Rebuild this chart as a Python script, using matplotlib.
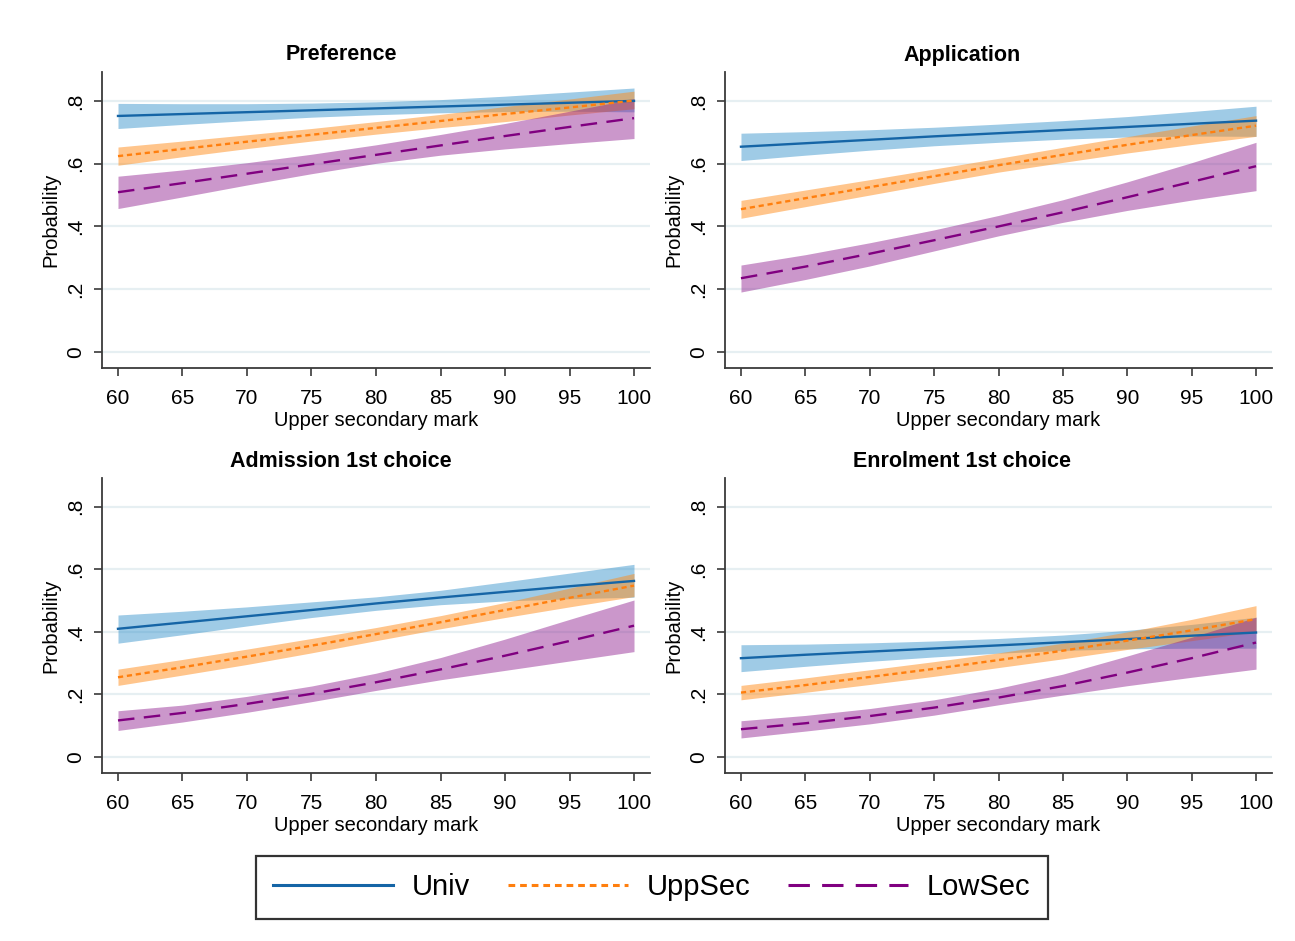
import matplotlib
matplotlib.use("Agg")
import matplotlib.pyplot as plt
from matplotlib.lines import Line2D
import numpy as np

plt.rcParams['font.family'] = ['Liberation Sans', 'DejaVu Sans']

marks = [60, 65, 70, 75, 80, 85, 90, 95, 100]
titles = ["Preference", "Application", "Admission 1st choice", "Enrolment 1st choice"]
series_names = ["Univ", "UppSec", "LowSec"]

# Preference
pref_univ = [0.752, 0.758, 0.764, 0.770, 0.776, 0.782, 0.788, 0.794, 0.800]
pref_univ_hi = [0.792, 0.791, 0.791, 0.793, 0.797, 0.804, 0.815, 0.828, 0.841]
pref_univ_lo = [0.712, 0.725, 0.737, 0.748, 0.756, 0.762, 0.766, 0.767, 0.765]
pref_upp = [0.624, 0.647, 0.670, 0.692, 0.714, 0.736, 0.758, 0.779, 0.801]
pref_upp_hi = [0.653, 0.672, 0.692, 0.712, 0.734, 0.757, 0.782, 0.806, 0.831]
pref_upp_lo = [0.595, 0.622, 0.648, 0.672, 0.694, 0.715, 0.734, 0.755, 0.775]
pref_low = [0.509, 0.538, 0.568, 0.598, 0.628, 0.658, 0.688, 0.717, 0.745]
pref_low_hi = [0.560, 0.580, 0.603, 0.630, 0.660, 0.693, 0.728, 0.767, 0.807]
pref_low_lo = [0.457, 0.494, 0.532, 0.568, 0.601, 0.627, 0.647, 0.664, 0.680]

# Application
app_univ = [0.654, 0.665, 0.676, 0.687, 0.697, 0.707, 0.717, 0.727, 0.737]
app_univ_hi = [0.697, 0.702, 0.708, 0.716, 0.726, 0.737, 0.750, 0.766, 0.783]
app_univ_lo = [0.610, 0.627, 0.643, 0.657, 0.668, 0.678, 0.685, 0.688, 0.687]
app_upp = [0.455, 0.490, 0.525, 0.560, 0.595, 0.628, 0.660, 0.691, 0.721]
app_upp_hi = [0.483, 0.516, 0.549, 0.583, 0.617, 0.652, 0.686, 0.720, 0.753]
app_upp_lo = [0.426, 0.463, 0.500, 0.537, 0.573, 0.604, 0.634, 0.661, 0.687]
app_low = [0.235, 0.272, 0.313, 0.356, 0.400, 0.445, 0.493, 0.542, 0.592]
app_low_hi = [0.277, 0.310, 0.348, 0.389, 0.435, 0.485, 0.542, 0.603, 0.668]
app_low_lo = [0.191, 0.231, 0.274, 0.322, 0.370, 0.413, 0.451, 0.484, 0.514]

# Admission 1st choice
adm_univ = [0.410, 0.430, 0.450, 0.470, 0.491, 0.510, 0.528, 0.546, 0.563]
adm_univ_hi = [0.454, 0.466, 0.480, 0.496, 0.512, 0.533, 0.560, 0.588, 0.616]
adm_univ_lo = [0.364, 0.391, 0.419, 0.446, 0.469, 0.487, 0.499, 0.506, 0.511]
adm_upp = [0.255, 0.287, 0.321, 0.356, 0.393, 0.431, 0.470, 0.509, 0.548]
adm_upp_hi = [0.281, 0.312, 0.345, 0.379, 0.414, 0.452, 0.494, 0.540, 0.587]
adm_upp_lo = [0.229, 0.262, 0.296, 0.333, 0.372, 0.410, 0.446, 0.480, 0.513]
adm_low = [0.117, 0.141, 0.170, 0.202, 0.239, 0.280, 0.324, 0.371, 0.420]
adm_low_hi = [0.148, 0.166, 0.194, 0.227, 0.268, 0.318, 0.377, 0.440, 0.502]
adm_low_lo = [0.085, 0.112, 0.143, 0.177, 0.213, 0.247, 0.277, 0.307, 0.337]

# Enrolment 1st choice
enr_univ = [0.316, 0.327, 0.337, 0.347, 0.357, 0.367, 0.377, 0.388, 0.398]
enr_univ_hi = [0.359, 0.361, 0.365, 0.371, 0.379, 0.390, 0.405, 0.424, 0.447]
enr_univ_lo = [0.273, 0.290, 0.306, 0.320, 0.332, 0.341, 0.346, 0.348, 0.348]
enr_upp = [0.206, 0.230, 0.256, 0.282, 0.310, 0.340, 0.372, 0.405, 0.441]
enr_upp_hi = [0.229, 0.253, 0.279, 0.305, 0.333, 0.364, 0.400, 0.440, 0.484]
enr_upp_lo = [0.183, 0.207, 0.232, 0.258, 0.286, 0.314, 0.344, 0.372, 0.401]
enr_low = [0.089, 0.108, 0.131, 0.158, 0.190, 0.227, 0.270, 0.316, 0.366]
enr_low_hi = [0.116, 0.133, 0.155, 0.183, 0.220, 0.265, 0.323, 0.383, 0.447]
enr_low_lo = [0.061, 0.083, 0.106, 0.134, 0.167, 0.198, 0.228, 0.255, 0.281]

panels = [
    [(pref_univ, pref_univ_lo, pref_univ_hi), (pref_upp, pref_upp_lo, pref_upp_hi), (pref_low, pref_low_lo, pref_low_hi)],
    [(app_univ, app_univ_lo, app_univ_hi), (app_upp, app_upp_lo, app_upp_hi), (app_low, app_low_lo, app_low_hi)],
    [(adm_univ, adm_univ_lo, adm_univ_hi), (adm_upp, adm_upp_lo, adm_upp_hi), (adm_low, adm_low_lo, adm_low_hi)],
    [(enr_univ, enr_univ_lo, enr_univ_hi), (enr_upp, enr_upp_lo, enr_upp_hi), (enr_low, enr_low_lo, enr_low_hi)],
]

line_colors = ["#1565a6", "#ff7f0e", "#800080"]
fill_colors = ["#2a8cc8", "#ff8c1a", "#8c1a8c"]
fill_alpha = [0.45, 0.5, 0.45]
styles = [dict(linestyle="-"), dict(dashes=(2.2, 1.6)), dict(dashes=(7, 4))]

W, H = 1295, 941
fig = plt.figure(figsize=(W / 100, H / 100), dpi=100)

boxes = [(102, 72, 650, 368), (725, 72, 1272, 368), (102, 478, 650, 773), (725, 478, 1272, 773)]
title_pos = [(341, 55), (962, 55), (341, 461), (962, 461)]
axis_col = "#3a3a3a"
for i, (l, t, r, b) in enumerate(boxes):
    ax = fig.add_axes([l / W, 1 - b / H, (r - l) / W, (b - t) / H])
    for k in range(3):
        est, lo, hi = panels[i][k]
        ax.fill_between(marks, lo, hi, color=fill_colors[k], alpha=fill_alpha[k], linewidth=0)
    for k in range(3):
        est, lo, hi = panels[i][k]
        ax.plot(marks, est, color=line_colors[k], linewidth=1.7, **styles[k])
    ax.set_xlim(58.76, 101.24)
    ax.set_ylim(-0.051, 0.892)
    ax.set_xticks(marks)
    ax.set_xticklabels([str(m) for m in marks])
    yt = [0, 0.2, 0.4, 0.6, 0.8]
    ax.set_yticks(yt)
    ax.set_yticklabels(["0", ".2", ".4", ".6", ".8"], rotation=90, va="center")
    ax.yaxis.grid(True, color="#e6eff2", linewidth=1.6)
    ax.set_axisbelow(True)
    for s in ["top", "right"]:
        ax.spines[s].set_visible(False)
    for s in ["left", "bottom"]:
        ax.spines[s].set_color(axis_col)
        ax.spines[s].set_linewidth(1.3)
    ax.tick_params(axis="x", direction="out", length=6, width=1.2, color=axis_col,
                   labelsize=15, labelcolor="black", pad=9)
    ax.tick_params(axis="y", direction="out", length=6, width=1.2, color=axis_col,
                   labelsize=15, labelcolor="black", pad=6)
    ax.set_xlabel("Upper secondary mark", fontsize=14.5, labelpad=2)
    ax.set_ylabel("Probability", fontsize=14.5, labelpad=4)
    tx, ty = title_pos[i]
    fig.text(tx / W, 1 - ty / H, titles[i], fontsize=15.5, fontweight="bold",
             ha="center", va="center")

handles = [Line2D([0], [0], color=line_colors[k], linewidth=2.2, **styles[k]) for k in range(3)]
leg = fig.legend(handles, series_names, loc="center", bbox_to_anchor=(652 / W, 1 - 887 / H),
                 ncol=3, fontsize=21, frameon=True, fancybox=False, edgecolor="black",
                 handlelength=4.1, columnspacing=1.3, handletextpad=0.65,
                 borderpad=0.6, borderaxespad=0)
leg.get_frame().set_linewidth(1.6)

fig.savefig("out.png", dpi=100, facecolor="white")
